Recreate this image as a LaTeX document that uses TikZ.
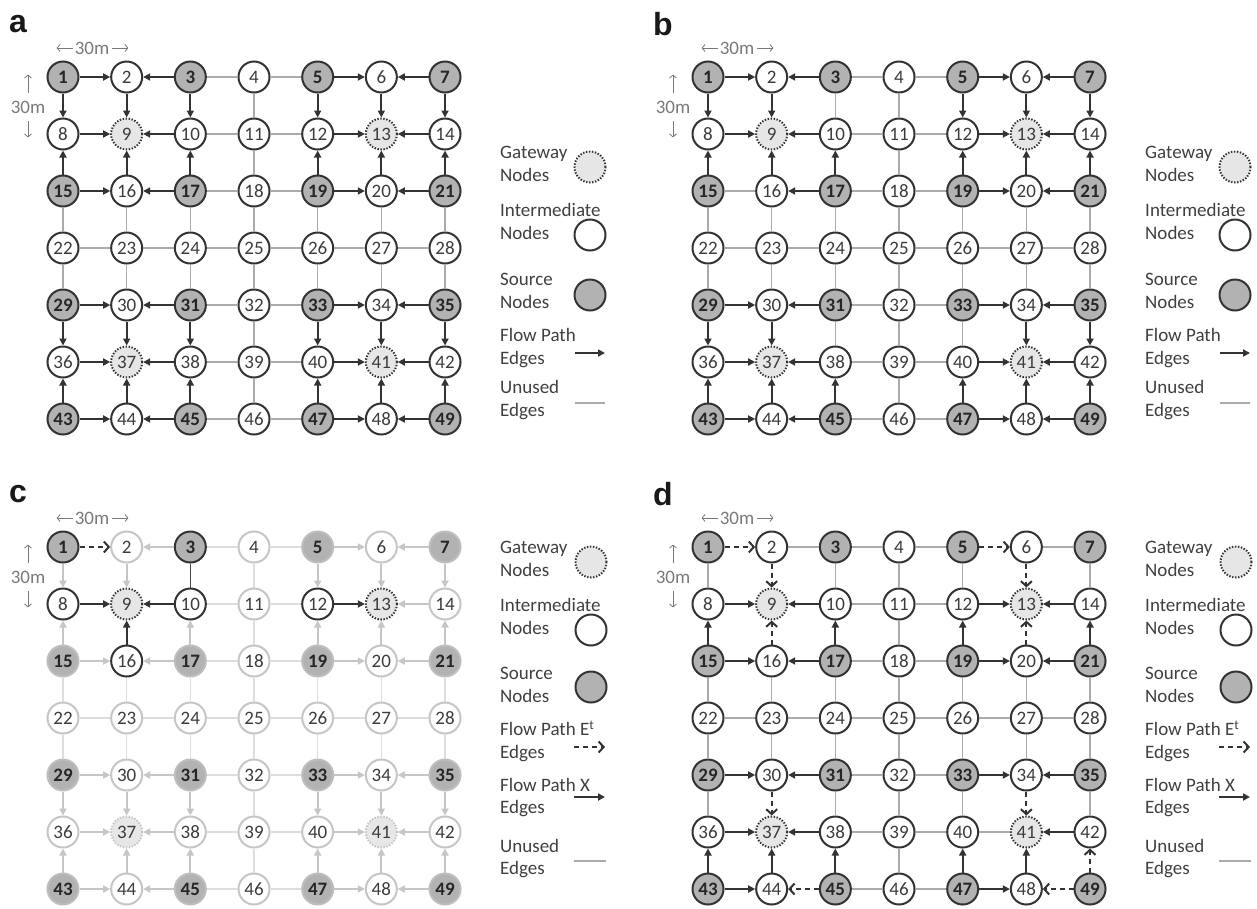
\documentclass[tikz,border=0pt]{standalone}
\usepackage{fontspec}
\setmainfont{Carlito}
\newfontfamily\letterfont{Liberation Sans}
\usetikzlibrary{arrows.meta}

\definecolor{ink}{HTML}{333333}
\definecolor{txt}{HTML}{3C3C3C}
\definecolor{srcfill}{HTML}{B2B2B2}
\definecolor{gwfill}{HTML}{E6E6E6}
\definecolor{idlecol}{HTML}{ABABAB}
\definecolor{pale}{HTML}{C6C6C6}
\definecolor{paleline}{HTML}{DDDDDD}
\definecolor{dimcol}{HTML}{7A7A7A}
\definecolor{legcol}{HTML}{404040}

\tikzset{
  nd/.style={circle, minimum size=31pt, inner sep=0pt, line width=2pt,
    font=\fontsize{19}{21}\selectfont, text=txt},
  src/.style={nd, draw=ink, fill=srcfill, font=\fontsize{19}{21}\selectfont\bfseries, text=black!85},
  mid/.style={nd, draw=ink, fill=white},
  gw/.style={nd, draw=ink, fill=gwfill, dash pattern=on 1.4pt off 1.6pt},
  srcpale/.style={nd, draw=srcfill!85, fill=srcfill, font=\fontsize{19}{21}\selectfont\bfseries, text=black!85},
  midpale/.style={nd, draw=pale, fill=white},
  gwpale/.style={nd, draw=pale, fill=gwfill!95, dash pattern=on 1.4pt off 1.6pt},
  flow/.style={draw=ink, line width=2pt, -{Triangle[length=7pt,width=7pt]}},
  flowpale/.style={draw=pale, line width=2pt, -{Triangle[length=7pt,width=7pt]}},
  hop/.style={draw=ink, line width=2pt, dash pattern=on 5pt off 4pt,
    -{Straight Barb[length=5pt,width=11pt,line width=2pt]}},
  idle/.style={draw=idlecol, line width=1.3pt},
  idlepale/.style={draw=paleline, line width=1.3pt},
  tie/.style={draw=ink!90, line width=1.2pt},
  letter/.style={inner sep=0pt, font=\letterfont\bfseries\fontsize{32}{34}\selectfont, text=black!90},
  dimtext/.style={inner sep=0pt, font=\fontsize{19}{21}\selectfont, text=dimcol},
  dimarrow/.style={draw=dimcol, line width=0.8pt, -{Straight Barb[length=3pt,width=7pt]}},
  legtext/.style={anchor=west, align=left, inner sep=0pt,
    font=\fontsize{19}{22.5}\selectfont, text=legcol},
}

% 7x7 grid of numbered nodes; sources at odd rows/columns, gateways at 9, 13, 37, 41
\newcommand\gridnodes[4]{%
  \foreach \n in {1,...,49}{%
    \pgfmathtruncatemacro\cc{mod(\n-1,7)}%
    \pgfmathtruncatemacro\rr{div(\n-1,7)}%
    \def\kind{mid}%
    \ifodd\cc\relax\else\ifodd\rr\relax\else\def\kind{src}\fi\fi
    \ifnum\cc=1 \ifnum\rr=1 \def\kind{gw}\fi\ifnum\rr=5 \def\kind{gw}\fi\fi
    \ifnum\cc=5 \ifnum\rr=1 \def\kind{gw}\fi\ifnum\rr=5 \def\kind{gw}\fi\fi
    \edef\look{\kind#4}%
    \ifcsname hot@#1@\n\endcsname\edef\look{\kind}\fi
    \edef\mk{\noexpand\node[\look]}%
    \mk (#1\n) at ({#2+63.67*\cc},{#3+57*\rr}) {\n};
  }}

\newcommand\hotnodes[2]{\foreach \n in {#2}{\expandafter\gdef\csname hot@#1@\n\endcsname{}}}

\newcommand\flowlink[4]{%
  \draw[#2] (#1#3) -- (#1#4);
  \expandafter\gdef\csname used@#1@#3@#4\endcsname{}%
  \expandafter\gdef\csname used@#1@#4@#3\endcsname{}}

\newcommand\flowlinks[3]{\foreach \fromn/\ton in {#3}{\flowlink{#1}{#2}{\fromn}{\ton}}}

% every grid edge not carrying flow is drawn as a plain line
\newcommand\idleedges[2]{%
  \foreach \rr in {0,...,6}{\foreach \cc in {0,...,5}{%
    \pgfmathtruncatemacro\fromn{7*\rr+\cc+1}\pgfmathtruncatemacro\ton{\fromn+1}%
    \ifcsname used@#1@\fromn @\ton\endcsname\else\draw[#2] (#1\fromn) -- (#1\ton);\fi}}
  \foreach \rr in {0,...,5}{\foreach \cc in {0,...,6}{%
    \pgfmathtruncatemacro\fromn{7*\rr+\cc+1}\pgfmathtruncatemacro\ton{\fromn+7}%
    \ifcsname used@#1@\fromn @\ton\endcsname\else\draw[#2] (#1\fromn) -- (#1\ton);\fi}}}

% panel letter and the 30 m spacing marks
\newcommand\scalemarks[3]{%
  \node[letter] (#1lbl) at (#2-45,#3-53) {#1};
  \node[dimtext] (#1hm) at (#2+29,#3-29) {30m};
  \draw[dimarrow] ([xshift=-2pt]#1hm.west) -- ++(-16,0);
  \draw[dimarrow] ([xshift=3pt]#1hm.east) -- ++(16,0);
  \node[dimtext] (#1vm) at (#2-35,#3+30) {30m};
  \draw[dimarrow] (#1vm.north) ++(0,-8) -- ++(0,-18);
  \draw[dimarrow] (#1vm.south) ++(0,8) -- ++(0,16);
}

\newcommand\legendA[3]{%
  \node[legtext] (#1lg) at (#2,164) {Gateway\\Nodes};
  \node[gw] (#1lgc) at (#3,167) {};
  \node[legtext] (#1li) at (#2,221.5) {Intermediate\\Nodes};
  \node[mid] (#1lic) at (#3,235) {};
  \node[legtext] (#1ls) at (#2,291) {Source\\Nodes};
  \node[src] (#1lsc) at (#3,295) {};
  \node[legtext] (#1lf) at (#2,348) {Flow Path\\Edges};
  \coordinate (#1lfa) at (#3-15,353); \coordinate (#1lfb) at (#3+15,353);
  \draw[flow] (#1lfa) -- (#1lfb);
  \node[legtext] (#1lu) at (#2,400) {Unused\\Edges};
  \coordinate (#1lua) at (#3-15,403); \coordinate (#1lub) at (#3+15,403);
  \draw[idle] (#1lua) -- (#1lub);
}

\newcommand\legendB[3]{%
  \node[legtext] (#1lg) at (#2,559) {Gateway\\Nodes};
  \node[gw] (#1lgc) at (#3,562) {};
  \node[legtext] (#1li) at (#2,616.5) {Intermediate\\Nodes};
  \node[mid] (#1lic) at (#3,630) {};
  \node[legtext] (#1ls) at (#2,685) {Source\\Nodes};
  \node[src] (#1lsc) at (#3,687) {};
  \node[legtext] (#1le) at (#2,741.5) {Flow Path E\textsuperscript{t}\\Edges};
  \coordinate (#1lea) at (#3-17,747); \coordinate (#1leb) at (#3+14,747);
  \draw[hop] (#1lea) -- (#1leb);
  \node[legtext] (#1lx) at (#2,797.5) {Flow Path X\\Edges};
  \coordinate (#1lxa) at (#3-17,797); \coordinate (#1lxb) at (#3+14,797);
  \draw[flow] (#1lxa) -- (#1lxb);
  \node[legtext] (#1lu) at (#2,858.5) {Unused\\Edges};
  \coordinate (#1lua) at (#3-17,861); \coordinate (#1lub) at (#3+15,861);
  \draw[idle] (#1lua) -- (#1lub);
}

\begin{document}
\begin{tikzpicture}[x=1pt,y=-1pt]
\useasboundingbox[fill=white] (0,0) rectangle (1257,908);

% ---- panel a
\gridnodes{a}{63}{77}{}
\flowlinks{a}{flow}{1/2,3/2,5/6,7/6,1/8,2/9,3/10,5/12,6/13,7/14,8/9,10/9,12/13,14/13,
  15/8,16/9,17/10,19/12,20/13,21/14,15/16,17/16,19/20,21/20,
  29/30,31/30,33/34,35/34,29/36,30/37,31/38,33/40,34/41,35/42,36/37,38/37,40/41,42/41,
  43/36,44/37,45/38,47/40,48/41,49/42,43/44,45/44,47/48,49/48}
\idleedges{a}{idle}
\scalemarks{a}{63}{77}
\legendA{a}{500}{590}

% ---- panel b
\gridnodes{b}{708}{77}{}
\flowlinks{b}{flow}{1/2,3/2,5/6,7/6,1/8,2/9,5/12,6/13,7/14,8/9,10/9,12/13,14/13,
  15/8,16/9,17/10,19/12,20/13,21/14,17/16,19/20,21/20,
  29/30,31/30,33/34,35/34,29/36,30/37,34/41,35/42,36/37,38/37,40/41,42/41,
  43/36,44/37,45/38,47/40,48/41,49/42,43/44,45/44,47/48,49/48}
\idleedges{b}{idle}
\scalemarks{b}{708}{77}
\legendA{b}{1145}{1235}

% ---- panel c
\hotnodes{c}{1,3,8,9,10,12,13,16}
\gridnodes{c}{63}{547}{pale}
\flowlinks{c}{hop}{1/2}
\flowlinks{c}{tie}{3/10}
\flowlinks{c}{flow}{8/9,10/9,16/9,12/13}
\flowlinks{c}{flowpale}{3/2,5/6,7/6,1/8,2/9,5/12,6/13,7/14,14/13,
  15/8,17/10,19/12,20/13,21/14,15/16,17/16,19/20,21/20,
  29/30,31/30,33/34,35/34,29/36,30/37,31/38,33/40,34/41,35/42,36/37,38/37,40/41,42/41,
  43/36,44/37,45/38,47/40,48/41,49/42,43/44,45/44,47/48,49/48}
\idleedges{c}{idlepale}
\scalemarks{c}{63}{547}
\legendB{c}{500}{591}

% ---- panel d
\gridnodes{d}{708}{547}{}
\flowlinks{d}{hop}{1/2,5/6,2/9,6/13,16/9,20/13,30/37,34/41,45/44,49/48,49/42}
\flowlinks{d}{flow}{8/9,10/9,12/13,14/13,15/8,17/10,19/12,21/14,15/16,17/16,19/20,21/20,
  29/30,31/30,33/34,35/34,36/37,38/37,42/41,43/36,44/37,45/38,47/40,48/41,43/44,47/48}
\idleedges{d}{idle}
\scalemarks{d}{708}{547}
\legendB{d}{1145}{1236}

\end{tikzpicture}
\end{document}
